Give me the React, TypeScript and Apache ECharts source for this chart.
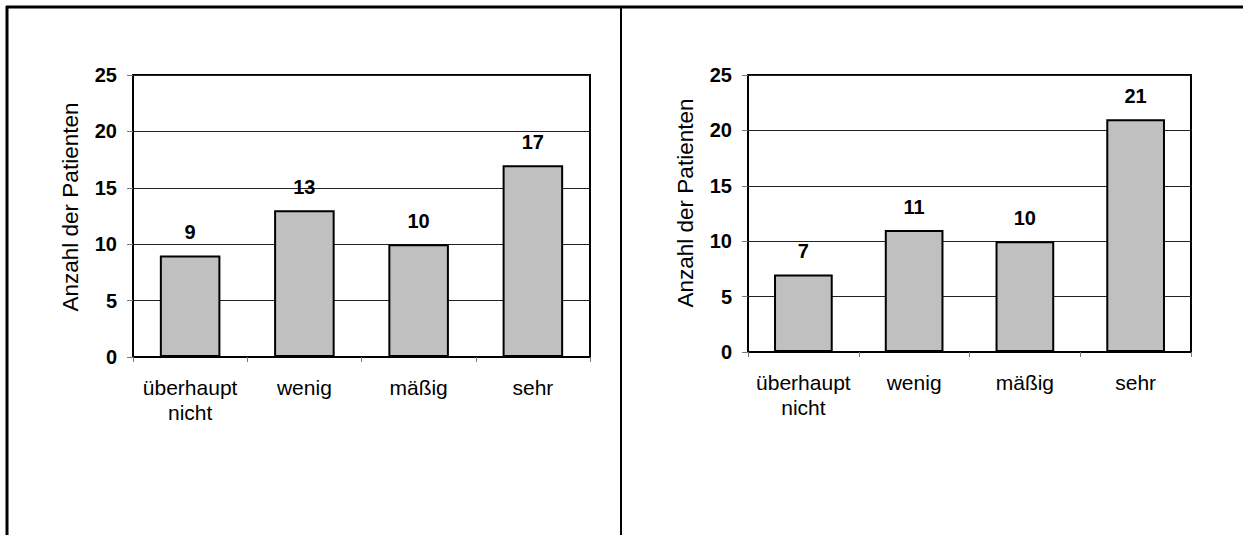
import React, { useEffect, useRef } from "react";
import * as echarts from "echarts";

const categories = ["überhaupt\nnicht", "wenig", "mäßig", "sehr"];
const leftValues = [9, 13, 10, 17];
const rightValues = [7, 11, 10, 21];
const yMin = 0;
const yMax = 25;
const yInterval = 5;
const axisTitle = "Anzahl der Patienten";

const FONT = "Arial, 'Liberation Sans', sans-serif";

function makeX(gridIndex: number) {
  return {
    type: "category" as const,
    gridIndex,
    data: categories,
    axisLine: { show: true, lineStyle: { color: "#000", width: 2 } },
    axisTick: { show: true, length: 5, lineStyle: { color: "#777", width: 1 } },
    axisLabel: {
      interval: 0,
      margin: 18,
      color: "#000",
      fontFamily: FONT,
      fontSize: 21,
      lineHeight: 25,
    },
    splitLine: { show: false },
  };
}

function makeY(gridIndex: number) {
  return {
    type: "value" as const,
    gridIndex,
    min: yMin,
    max: yMax,
    interval: yInterval,
    axisLine: { show: true, lineStyle: { color: "#000", width: 2 } },
    axisTick: { show: true, length: 6, lineStyle: { color: "#777", width: 1 } },
    axisLabel: {
      margin: 16,
      color: "#000",
      fontFamily: FONT,
      fontSize: 20,
      fontWeight: "bold" as const,
    },
    splitLine: { show: true, lineStyle: { color: "#222", width: 1 } },
  };
}

function makeSeries(idx: number, data: number[]) {
  return {
    type: "bar" as const,
    xAxisIndex: idx,
    yAxisIndex: idx,
    data,
    barWidth: "53%",
    itemStyle: { color: "#c0c0c0", borderColor: "#000", borderWidth: 2 },
    label: {
      show: true,
      position: "top" as const,
      distance: 13,
      color: "#000",
      fontFamily: FONT,
      fontSize: 20,
      fontWeight: "bold" as const,
    },
  };
}

export default function App() {
  const ref = useRef<HTMLDivElement>(null);
  useEffect(() => {
    if (!ref.current) return;
    const chart = echarts.init(ref.current, null, { renderer: "svg" });
    chart.setOption({
      animation: false,
      backgroundColor: "#fff",
      grid: [
        { left: 133, top: 75, width: 457, height: 282, show: true, borderColor: "#000", borderWidth: 2, backgroundColor: "transparent" },
        { left: 748, top: 75, width: 443, height: 277, show: true, borderColor: "#000", borderWidth: 2, backgroundColor: "transparent" },
      ],
      xAxis: [makeX(0), makeX(1)],
      yAxis: [makeY(0), makeY(1)],
      series: [makeSeries(0, leftValues), makeSeries(1, rightValues)],
      graphic: [
        { type: "line", shape: { x1: 7, y1: 6, x2: 7, y2: 535 }, style: { stroke: "#000", lineWidth: 3 } },
        { type: "line", shape: { x1: 6, y1: 7, x2: 1243, y2: 7 }, style: { stroke: "#000", lineWidth: 3 } },
        { type: "line", shape: { x1: 621, y1: 7, x2: 621, y2: 535 }, style: { stroke: "#000", lineWidth: 2 } },
        {
          type: "text",
          x: 70,
          y: 207,
          rotation: Math.PI / 2,
          style: { text: axisTitle, font: `22.5px ${FONT}`, fill: "#000", align: "center", verticalAlign: "middle" },
        },
        {
          type: "text",
          x: 685,
          y: 203,
          rotation: Math.PI / 2,
          style: { text: axisTitle, font: `22.5px ${FONT}`, fill: "#000", align: "center", verticalAlign: "middle" },
        },
      ],
    });
    return () => chart.dispose();
  }, []);
  return (
    <div
      ref={ref}
      style={{ position: "fixed", left: 0, top: 0, width: 1243, height: 535, background: "#fff" }}
    />
  );
}
